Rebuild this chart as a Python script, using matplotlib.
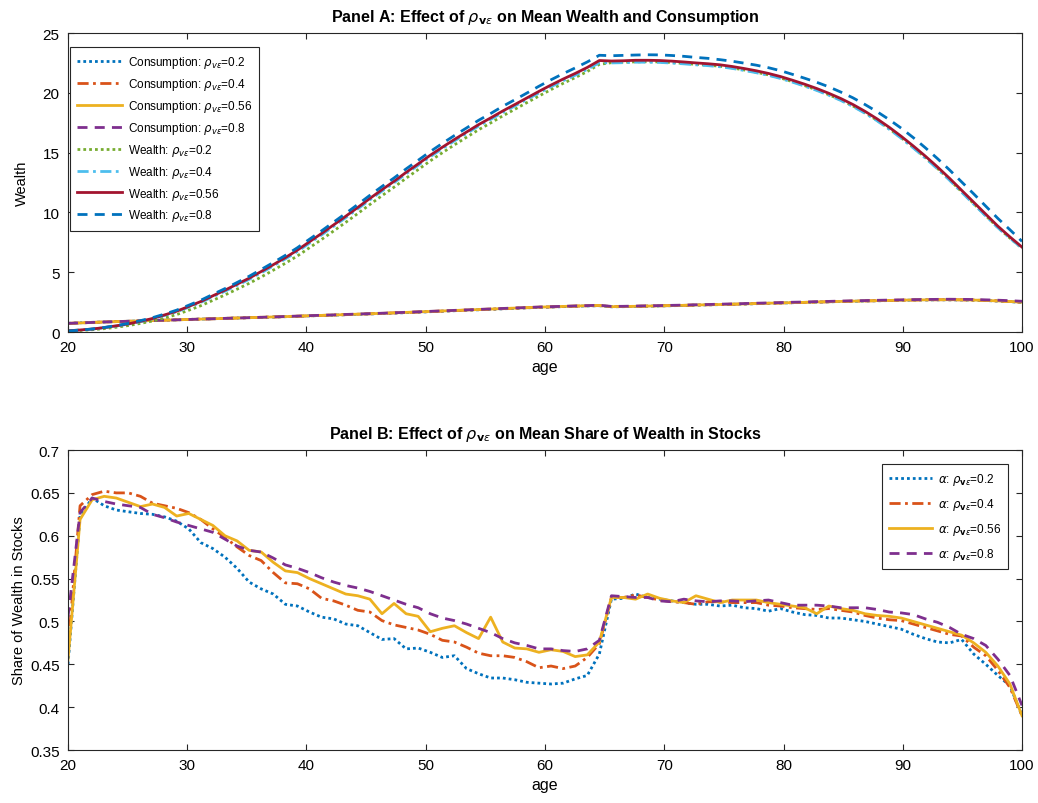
import numpy as np
import matplotlib
matplotlib.use("Agg")
import matplotlib.pyplot as plt

plt.rcParams['font.family'] = ['Liberation Sans', 'DejaVu Sans']
plt.rcParams['mathtext.fontset'] = 'dejavusans'

# simulation grid: 80 periods from age 20 to 100
age = np.linspace(20, 100, 80)

# ---- Panel A: mean consumption by rho
cons_02 = [0.73, 0.77, 0.81, 0.84, 0.87, 0.90, 0.93, 0.96, 0.99, 1.02,
           1.05, 1.08, 1.11, 1.14, 1.17, 1.20, 1.22, 1.25, 1.28, 1.31,
           1.35, 1.38, 1.41, 1.45, 1.48, 1.51, 1.55, 1.58, 1.62, 1.66,
           1.70, 1.74, 1.78, 1.82, 1.86, 1.90, 1.94, 1.98, 2.02, 2.06,
           2.09, 2.12, 2.15, 2.18, 2.20, 2.11, 2.12, 2.14, 2.16, 2.18,
           2.20, 2.22, 2.25, 2.27, 2.29, 2.32, 2.34, 2.37, 2.40, 2.42,
           2.45, 2.47, 2.50, 2.52, 2.55, 2.57, 2.59, 2.61, 2.63, 2.65,
           2.67, 2.68, 2.69, 2.69, 2.68, 2.66, 2.63, 2.59, 2.54, 2.47]
cons_04 = [0.72, 0.76, 0.80, 0.84, 0.87, 0.90, 0.93, 0.96, 0.99, 1.02,
           1.05, 1.08, 1.11, 1.14, 1.17, 1.20, 1.23, 1.26, 1.29, 1.32,
           1.35, 1.39, 1.42, 1.45, 1.49, 1.52, 1.56, 1.60, 1.63, 1.67,
           1.71, 1.75, 1.79, 1.83, 1.87, 1.91, 1.95, 1.99, 2.03, 2.07,
           2.10, 2.13, 2.16, 2.19, 2.21, 2.12, 2.13, 2.15, 2.17, 2.19,
           2.21, 2.23, 2.25, 2.28, 2.30, 2.32, 2.35, 2.38, 2.40, 2.43,
           2.45, 2.48, 2.50, 2.53, 2.55, 2.58, 2.60, 2.62, 2.64, 2.66,
           2.67, 2.69, 2.70, 2.70, 2.69, 2.67, 2.64, 2.60, 2.55, 2.49]
cons_056 = [0.72, 0.76, 0.80, 0.84, 0.87, 0.90, 0.93, 0.96, 0.99, 1.02,
            1.05, 1.08, 1.11, 1.14, 1.17, 1.20, 1.23, 1.26, 1.29, 1.32,
            1.36, 1.39, 1.42, 1.46, 1.49, 1.53, 1.56, 1.60, 1.64, 1.68,
            1.72, 1.76, 1.80, 1.84, 1.88, 1.92, 1.96, 2.00, 2.04, 2.08,
            2.11, 2.14, 2.17, 2.20, 2.22, 2.12, 2.13, 2.15, 2.17, 2.19,
            2.21, 2.23, 2.26, 2.28, 2.30, 2.33, 2.35, 2.38, 2.41, 2.43,
            2.46, 2.48, 2.51, 2.53, 2.56, 2.58, 2.60, 2.62, 2.64, 2.66,
            2.68, 2.69, 2.70, 2.70, 2.69, 2.67, 2.64, 2.60, 2.55, 2.49]
cons_08 = [0.72, 0.76, 0.80, 0.84, 0.87, 0.90, 0.93, 0.96, 0.99, 1.02,
           1.05, 1.08, 1.11, 1.14, 1.17, 1.20, 1.23, 1.26, 1.30, 1.33,
           1.37, 1.40, 1.43, 1.47, 1.50, 1.54, 1.57, 1.61, 1.65, 1.69,
           1.73, 1.77, 1.81, 1.85, 1.89, 1.93, 1.97, 2.01, 2.05, 2.09,
           2.12, 2.15, 2.18, 2.21, 2.24, 2.14, 2.15, 2.17, 2.19, 2.21,
           2.23, 2.25, 2.28, 2.30, 2.33, 2.35, 2.38, 2.41, 2.43, 2.46,
           2.49, 2.51, 2.54, 2.56, 2.59, 2.61, 2.63, 2.65, 2.67, 2.69,
           2.71, 2.72, 2.73, 2.74, 2.73, 2.72, 2.69, 2.66, 2.62, 2.57]

# ---- Panel A: mean wealth by rho
wealth_02 = [0.08, 0.13, 0.19, 0.28, 0.40, 0.54, 0.72, 0.92, 1.18, 1.46,
             1.82, 2.20, 2.65, 3.10, 3.58, 4.07, 4.60, 5.17, 5.75, 6.36,
             7.05, 7.74, 8.45, 9.17, 9.91, 10.66, 11.40, 12.11, 12.86, 13.58,
             14.31, 14.99, 15.65, 16.28, 16.91, 17.48, 18.07, 18.62, 19.18, 19.73,
             20.27, 20.79, 21.27, 21.78, 22.38, 22.52, 22.55, 22.59, 22.60, 22.58,
             22.53, 22.46, 22.38, 22.31, 22.22, 22.08, 21.91, 21.72, 21.50, 21.24,
             20.93, 20.60, 20.24, 19.84, 19.40, 18.90, 18.33, 17.70, 17.00, 16.24,
             15.43, 14.58, 13.68, 12.73, 11.73, 10.73, 9.73, 8.74, 7.85, 7.00]
wealth_04 = [0.10, 0.17, 0.25, 0.36, 0.50, 0.66, 0.87, 1.10, 1.39, 1.69,
             2.08, 2.48, 2.95, 3.41, 3.90, 4.40, 4.95, 5.52, 6.11, 6.73,
             7.43, 8.12, 8.84, 9.56, 10.30, 11.05, 11.78, 12.48, 13.23, 13.94,
             14.66, 15.33, 15.98, 16.60, 17.22, 17.78, 18.36, 18.90, 19.45, 19.99,
             20.51, 21.01, 21.47, 21.96, 22.52, 22.50, 22.52, 22.56, 22.56, 22.54,
             22.49, 22.42, 22.34, 22.27, 22.18, 22.04, 21.87, 21.68, 21.46, 21.20,
             20.89, 20.56, 20.20, 19.80, 19.36, 18.86, 18.29, 17.66, 16.96, 16.20,
             15.39, 14.54, 13.64, 12.69, 11.69, 10.69, 9.70, 8.72, 7.84, 7.02]
wealth_056 = [0.10, 0.17, 0.25, 0.37, 0.52, 0.68, 0.90, 1.13, 1.43, 1.74,
              2.14, 2.55, 3.03, 3.50, 4.00, 4.50, 5.06, 5.63, 6.22, 6.85,
              7.55, 8.24, 8.96, 9.68, 10.42, 11.17, 11.90, 12.60, 13.35, 14.06,
              14.78, 15.45, 16.10, 16.72, 17.34, 17.90, 18.48, 19.02, 19.57, 20.12,
              20.65, 21.15, 21.62, 22.12, 22.70, 22.66, 22.68, 22.72, 22.72, 22.70,
              22.65, 22.58, 22.50, 22.43, 22.34, 22.20, 22.03, 21.84, 21.62, 21.36,
              21.05, 20.72, 20.36, 19.96, 19.52, 19.02, 18.45, 17.82, 17.12, 16.36,
              15.55, 14.70, 13.80, 12.85, 11.85, 10.85, 9.85, 8.85, 7.95, 7.10]
wealth_08 = [0.08, 0.16, 0.25, 0.38, 0.54, 0.72, 0.95, 1.20, 1.50, 1.83,
             2.24, 2.66, 3.15, 3.63, 4.14, 4.66, 5.23, 5.81, 6.41, 7.05,
             7.76, 8.46, 9.19, 9.92, 10.67, 11.43, 12.17, 12.88, 13.64, 14.36,
             15.09, 15.77, 16.43, 17.06, 17.70, 18.27, 18.87, 19.42, 19.98, 20.55,
             21.09, 21.60, 22.08, 22.58, 23.14, 23.10, 23.13, 23.16, 23.18, 23.17,
             23.12, 23.05, 22.96, 22.88, 22.77, 22.64, 22.48, 22.31, 22.10, 21.85,
             21.54, 21.22, 20.88, 20.50, 20.06, 19.58, 19.02, 18.42, 17.76, 17.04,
             16.25, 15.40, 14.50, 13.55, 12.55, 11.55, 10.52, 9.50, 8.55, 7.58]

# ---- Panel B: mean share of wealth in stocks by rho
share_02 = [0.450, 0.623, 0.644, 0.635, 0.630, 0.628, 0.626, 0.625, 0.622, 0.617,
            0.608, 0.592, 0.585, 0.575, 0.562, 0.546, 0.538, 0.532, 0.520, 0.518,
            0.511, 0.505, 0.503, 0.497, 0.495, 0.487, 0.479, 0.480, 0.468, 0.469,
            0.464, 0.458, 0.460, 0.445, 0.439, 0.434, 0.434, 0.432, 0.429, 0.428,
            0.427, 0.428, 0.433, 0.437, 0.462, 0.526, 0.527, 0.532, 0.528, 0.526,
            0.524, 0.522, 0.520, 0.520, 0.518, 0.519, 0.516, 0.515, 0.512, 0.515,
            0.511, 0.508, 0.507, 0.504, 0.504, 0.502, 0.500, 0.497, 0.494, 0.491,
            0.485, 0.480, 0.476, 0.475, 0.479, 0.462, 0.450, 0.437, 0.425, 0.390]
share_04 = [0.468, 0.635, 0.648, 0.652, 0.650, 0.650, 0.646, 0.638, 0.635, 0.632,
            0.627, 0.619, 0.608, 0.598, 0.587, 0.577, 0.571, 0.557, 0.545, 0.544,
            0.538, 0.527, 0.524, 0.519, 0.513, 0.511, 0.501, 0.496, 0.493, 0.490,
            0.485, 0.478, 0.476, 0.470, 0.463, 0.460, 0.460, 0.458, 0.453, 0.446,
            0.448, 0.445, 0.448, 0.458, 0.474, 0.528, 0.528, 0.531, 0.528, 0.525,
            0.523, 0.522, 0.520, 0.523, 0.523, 0.522, 0.522, 0.522, 0.519, 0.518,
            0.516, 0.515, 0.514, 0.515, 0.513, 0.511, 0.507, 0.504, 0.502, 0.501,
            0.497, 0.493, 0.489, 0.485, 0.483, 0.470, 0.460, 0.443, 0.423, 0.390]
share_056 = [0.455, 0.619, 0.642, 0.646, 0.644, 0.639, 0.634, 0.637, 0.633, 0.623,
             0.626, 0.619, 0.612, 0.600, 0.594, 0.583, 0.581, 0.569, 0.559, 0.557,
             0.550, 0.544, 0.538, 0.532, 0.530, 0.526, 0.509, 0.521, 0.509, 0.506,
             0.488, 0.492, 0.495, 0.487, 0.480, 0.505, 0.476, 0.469, 0.468, 0.464,
             0.467, 0.465, 0.459, 0.461, 0.476, 0.528, 0.528, 0.526, 0.532, 0.527,
             0.524, 0.522, 0.530, 0.526, 0.522, 0.525, 0.525, 0.525, 0.522, 0.520,
             0.518, 0.516, 0.509, 0.518, 0.515, 0.513, 0.509, 0.507, 0.506, 0.504,
             0.500, 0.496, 0.492, 0.488, 0.484, 0.475, 0.464, 0.448, 0.427, 0.390]
share_08 = [0.505, 0.627, 0.644, 0.640, 0.637, 0.635, 0.633, 0.625, 0.621, 0.616,
            0.612, 0.608, 0.604, 0.596, 0.588, 0.583, 0.581, 0.574, 0.566, 0.562,
            0.557, 0.551, 0.546, 0.542, 0.539, 0.535, 0.530, 0.525, 0.520, 0.516,
            0.509, 0.504, 0.501, 0.497, 0.492, 0.487, 0.480, 0.475, 0.472, 0.468,
            0.468, 0.466, 0.465, 0.468, 0.478, 0.530, 0.529, 0.528, 0.528, 0.524,
            0.523, 0.526, 0.524, 0.523, 0.524, 0.524, 0.523, 0.524, 0.525, 0.522,
            0.519, 0.519, 0.519, 0.518, 0.516, 0.516, 0.516, 0.514, 0.511, 0.510,
            0.508, 0.503, 0.499, 0.493, 0.485, 0.480, 0.472, 0.456, 0.437, 0.402]

rho_labels = ['0.2', '0.4', '0.56', '0.8']
x_ticks = [20, 30, 40, 50, 60, 70, 80, 90, 100]
ya_ticks = [0, 5, 10, 15, 20, 25]
yb_ticks = [0.35, 0.4, 0.45, 0.5, 0.55, 0.6, 0.65, 0.7]
yb_ticklabels = ['0.35', '0.4', '0.45', '0.5', '0.55', '0.6', '0.65', '0.7']

# matlab default line colours
c_blue = '#0072BD'; c_orange = '#D95319'; c_yellow = '#EDB120'
c_purple = '#7E2F8E'; c_green = '#77AC30'; c_cyan = '#4DBEEE'; c_red = '#A2142F'
axc = '#262626'

dot = (0, (1, 1.1))
dashdot = (0, (4.0, 1.6, 1, 1.6))
dash = (0, (3.6, 2.6))

fig = plt.figure(figsize=(10.38, 8.04), dpi=100)
axA = fig.add_axes([0.0655, 0.5858, 0.9191, 0.3719])
axB = fig.add_axes([0.0655, 0.0659, 0.9191, 0.3731])

def style_axes(ax):
    for s in ax.spines.values():
        s.set_color(axc); s.set_linewidth(0.8)
    ax.tick_params(direction='in', top=True, right=True, length=4,
                   width=0.8, colors=axc, labelsize=11, labelcolor='black', pad=6)
    ax.set_xlim(20, 100)
    ax.set_xticks(x_ticks)

lw = 2.0
# panel A
cons = [cons_02, cons_04, cons_056, cons_08]
wealth = [wealth_02, wealth_04, wealth_056, wealth_08]
cons_style = [(c_blue, dot), (c_orange, dashdot), (c_yellow, '-'), (c_purple, dash)]
wealth_style = [(c_green, dot), (c_cyan, dashdot), (c_red, '-'), (c_blue, dash)]
for vals, (col, ls), r in zip(cons, cons_style, rho_labels):
    axA.plot(age, vals, color=col, linestyle=ls, lw=lw,
             label=r'Consumption: $\rho_{v\epsilon}$=' + r)
for vals, (col, ls), r in zip(wealth, wealth_style, rho_labels):
    axA.plot(age, vals, color=col, linestyle=ls, lw=lw,
             label=r'Wealth: $\rho_{v\epsilon}$=' + r)
style_axes(axA)
axA.set_ylim(0, 25)
axA.set_yticks(ya_ticks)
axA.set_xlabel('age', fontsize=11.5, labelpad=3)
axA.set_ylabel('Wealth', fontsize=10.5, labelpad=10)
axA.set_title(r'Panel A: Effect of $\rho_{\mathbf{v}\epsilon}$ on Mean Wealth and Consumption',
              fontsize=11.5, fontweight='bold', pad=9)
legA = axA.legend(loc='upper left', bbox_to_anchor=(0.002, 0.953), borderaxespad=0,
                  fontsize=8.5, frameon=True, fancybox=False, framealpha=1,
                  edgecolor=axc, handlelength=3.8, handletextpad=0.5,
                  labelspacing=0.5, borderpad=0.6)
legA.get_frame().set_linewidth(0.8)

# panel B
shares = [share_02, share_04, share_056, share_08]
for vals, (col, ls), r in zip(shares, cons_style, rho_labels):
    axB.plot(age, vals, color=col, linestyle=ls, lw=lw,
             label=r'$\alpha$: $\rho_{\mathbf{v}\epsilon}$=' + r)
style_axes(axB)
axB.set_ylim(0.35, 0.7)
axB.set_yticks(yb_ticks)
axB.set_yticklabels(yb_ticklabels)
axB.set_xlabel('age', fontsize=11.5, labelpad=3)
axB.set_ylabel('Share of Wealth in Stocks', fontsize=10.5, labelpad=3)
axB.set_title(r'Panel B: Effect of $\rho_{\mathbf{v}\epsilon}$ on Mean Share of Wealth in Stocks',
              fontsize=11.5, fontweight='bold', pad=9)
legB = axB.legend(loc='upper right', bbox_to_anchor=(0.9853, 0.953), borderaxespad=0,
                  fontsize=8.5, frameon=True, fancybox=False, framealpha=1,
                  edgecolor=axc, handlelength=3.6, handletextpad=0.5,
                  labelspacing=0.75, borderpad=0.6)
legB.get_frame().set_linewidth(0.8)

fig.savefig('out.png', dpi=100)
